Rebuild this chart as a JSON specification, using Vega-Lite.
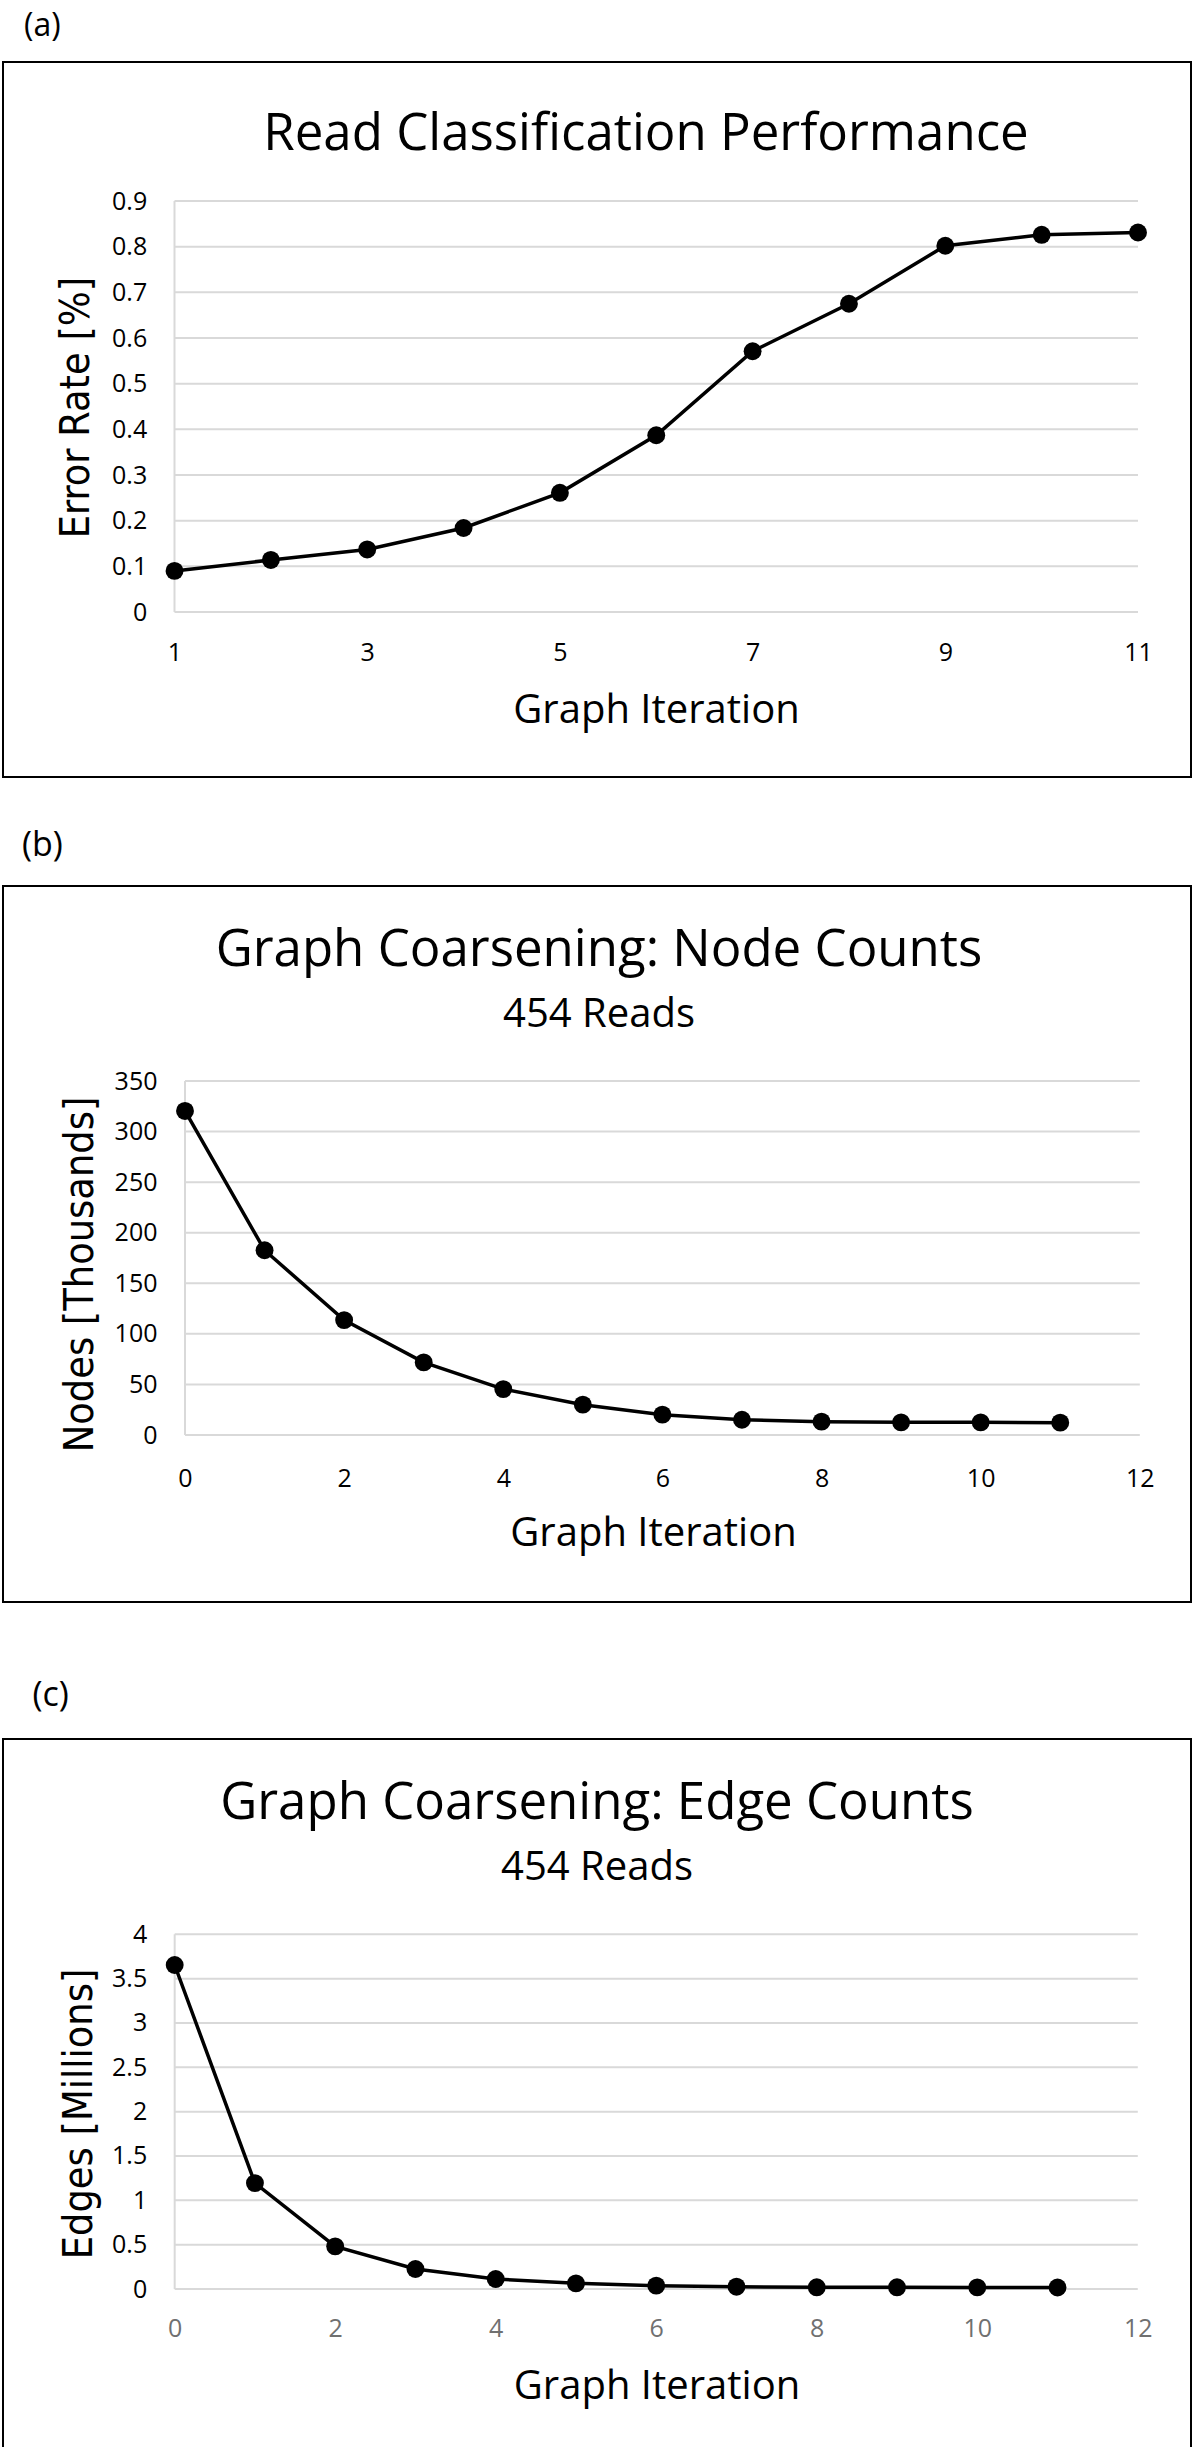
{
  "$schema": "https://vega.github.io/schema/vega-lite/v6.json",
  "padding": {"left": 2, "top": 10, "right": 0, "bottom": 0},
  "background": "white",
  "config": {
    "view": {"stroke": "black", "strokeWidth": 2},
    "font": "Open Sans",
    "title": {"font": "Open Sans", "fontWeight": "normal", "color": "black", "subtitleFont": "Open Sans", "subtitleColor": "black", "subtitleFontWeight": "normal"},
    "axis": {"grid": false, "domain": false, "ticks": false, "tickSize": 0, "labelPadding": 0, "labelFont": "Open Sans", "labelFontSize": 25, "labelColor": "black", "labelFlush": false, "labelOverlap": false, "titleColor": "black", "titleFontWeight": "normal", "format": ".2~f"}
  },
  "datasets": {
    "A": [
      {"x": 1, "y": 0.09}, {"x": 2, "y": 0.114}, {"x": 3, "y": 0.137}, {"x": 4, "y": 0.184},
      {"x": 5, "y": 0.261}, {"x": 6, "y": 0.387}, {"x": 7, "y": 0.571}, {"x": 8, "y": 0.675},
      {"x": 9, "y": 0.802}, {"x": 10, "y": 0.826}, {"x": 11, "y": 0.831}
    ],
    "gridA": [
      {"x": 1, "x2": 11, "y": 0}, {"x": 1, "x2": 11, "y": 0.1}, {"x": 1, "x2": 11, "y": 0.2},
      {"x": 1, "x2": 11, "y": 0.3}, {"x": 1, "x2": 11, "y": 0.4}, {"x": 1, "x2": 11, "y": 0.5},
      {"x": 1, "x2": 11, "y": 0.6}, {"x": 1, "x2": 11, "y": 0.7}, {"x": 1, "x2": 11, "y": 0.8},
      {"x": 1, "x2": 11, "y": 0.9}
    ],
    "vaxA": [{"x": 1, "y": 0, "y2": 0.9}],
    "B": [
      {"x": 0, "y": 320.4}, {"x": 1, "y": 182.7}, {"x": 2, "y": 113.6}, {"x": 3, "y": 71.8},
      {"x": 4, "y": 45.4}, {"x": 5, "y": 30.0}, {"x": 6, "y": 20.1}, {"x": 7, "y": 15.1},
      {"x": 8, "y": 13.2}, {"x": 9, "y": 12.5}, {"x": 10, "y": 12.5}, {"x": 11, "y": 12.2}
    ],
    "gridB": [
      {"x": 0, "x2": 12, "y": 0}, {"x": 0, "x2": 12, "y": 50}, {"x": 0, "x2": 12, "y": 100},
      {"x": 0, "x2": 12, "y": 150}, {"x": 0, "x2": 12, "y": 200}, {"x": 0, "x2": 12, "y": 250},
      {"x": 0, "x2": 12, "y": 300}, {"x": 0, "x2": 12, "y": 350}
    ],
    "vaxB": [{"x": 0, "y": 0, "y2": 350}],
    "C": [
      {"x": 0, "y": 3.654}, {"x": 1, "y": 1.194}, {"x": 2, "y": 0.481}, {"x": 3, "y": 0.225},
      {"x": 4, "y": 0.113}, {"x": 5, "y": 0.064}, {"x": 6, "y": 0.038}, {"x": 7, "y": 0.026},
      {"x": 8, "y": 0.019}, {"x": 9, "y": 0.019}, {"x": 10, "y": 0.018}, {"x": 11, "y": 0.017}
    ],
    "gridC": [
      {"x": 0, "x2": 12, "y": 0}, {"x": 0, "x2": 12, "y": 0.5}, {"x": 0, "x2": 12, "y": 1},
      {"x": 0, "x2": 12, "y": 1.5}, {"x": 0, "x2": 12, "y": 2}, {"x": 0, "x2": 12, "y": 2.5},
      {"x": 0, "x2": 12, "y": 3}, {"x": 0, "x2": 12, "y": 3.5}, {"x": 0, "x2": 12, "y": 4}
    ],
    "vaxC": [{"x": 0, "y": 0, "y2": 4}]
  },
  "spacing": 76,
  "vconcat": [
    {
      "spacing": 51,
      "vconcat": [
        {
          "title": {"text": "(a)", "anchor": "start", "dx": 22, "offset": 18, "fontSize": 32},
          "vconcat": [
            {
              "width": 1188,
              "height": 715,
              "title": {"text": "Read Classification Performance", "anchor": "middle", "frame": "group", "fontSize": 51, "dx": 49, "offset": -99},
              "encoding": {
                "x": {"field": "x", "type": "quantitative", "scale": {"domain": [-0.78, 11.55], "nice": false, "zero": false},
                  "axis": {"values": [1, 3, 5, 7, 9, 11], "offset": -117, "labelBaseline": "alphabetic", "title": "Graph Iteration", "titleFont": "Open Sans", "titleFontSize": 40, "titleX": 653, "titleY": 62, "titleAlign": "center", "titleBaseline": "alphabetic", "titleAngle": 0}},
                "y": {"field": "y", "type": "quantitative", "scale": {"domain": [-0.3613, 1.2044], "nice": false, "zero": false},
                  "axis": {"values": [0, 0.1, 0.2, 0.3, 0.4, 0.5, 0.6, 0.7, 0.8, 0.9], "offset": -143.7, "labelBaseline": "middle", "labelAlign": "right", "title": "Error Rate [%]", "titleFont": "DejaVu Sans Condensed, DejaVu Sans", "titleFontSize": 41, "titleX": -58.4, "titleY": 345, "titleAngle": 270, "titleAlign": "center", "titleBaseline": "alphabetic"}}
              },
              "layer": [
                {"data": {"name": "gridA"}, "mark": {"type": "rule", "color": "#d9d9d9", "strokeWidth": 2}, "encoding": {"x2": {"field": "x2"}}},
                {"data": {"name": "vaxA"}, "mark": {"type": "rule", "color": "#d9d9d9", "strokeWidth": 2}, "encoding": {"y2": {"field": "y2"}}},
                {"data": {"name": "A"}, "mark": {"type": "line", "color": "black", "strokeWidth": 3.5}},
                {"data": {"name": "A"}, "mark": {"type": "circle", "color": "black", "opacity": 1, "size": 320}}
              ]
            }
          ]
        },
        {
          "title": {"text": "(b)", "anchor": "start", "dx": 20, "offset": 22, "fontSize": 34},
          "vconcat": [
            {
              "width": 1188,
              "height": 716,
              "title": {"text": "Graph Coarsening: Node Counts", "subtitle": "454 Reads", "anchor": "middle", "frame": "group", "fontSize": 51, "subtitleFontSize": 40, "subtitlePadding": 18.4, "dx": 2, "offset": -150.3},
              "encoding": {
                "x": {"field": "x", "type": "quantitative", "scale": {"domain": [-2.2874, 12.6435], "nice": false, "zero": false},
                  "axis": {"values": [0, 2, 4, 6, 8, 10, 12], "offset": -116, "labelBaseline": "alphabetic", "title": "Graph Iteration", "titleFont": "Open Sans", "titleFontSize": 40, "titleX": 650, "titleY": 59.5, "titleAlign": "center", "titleBaseline": "alphabetic", "titleAngle": 0}},
                "y": {"field": "y", "type": "quantitative", "scale": {"domain": [-165.1, 542.8], "nice": false, "zero": false},
                  "axis": {"values": [0, 50, 100, 150, 200, 250, 300, 350], "offset": -154, "labelBaseline": "middle", "labelAlign": "right", "title": "Nodes [Thousands]", "titleFont": "DejaVu Sans Condensed, DejaVu Sans", "titleFontSize": 41, "titleX": -65, "titleY": 388, "titleAngle": 270, "titleAlign": "center", "titleBaseline": "alphabetic"}}
              },
              "layer": [
                {"data": {"name": "gridB"}, "mark": {"type": "rule", "color": "#d9d9d9", "strokeWidth": 2}, "encoding": {"x2": {"field": "x2"}}},
                {"data": {"name": "vaxB"}, "mark": {"type": "rule", "color": "#d9d9d9", "strokeWidth": 2}, "encoding": {"y2": {"field": "y2"}}},
                {"data": {"name": "B"}, "mark": {"type": "line", "color": "black", "strokeWidth": 3.5}},
                {"data": {"name": "B"}, "mark": {"type": "circle", "color": "black", "opacity": 1, "size": 320}}
              ]
            }
          ]
        }
      ]
    },
    {
      "title": {"text": "(c)", "anchor": "start", "dx": 30.5, "offset": 25, "fontSize": 34},
      "vconcat": [
        {
          "width": 1188,
          "height": 711,
          "title": {"text": "Graph Coarsening: Edge Counts", "subtitle": "454 Reads", "anchor": "middle", "frame": "group", "fontSize": 51, "subtitleFontSize": 40, "subtitlePadding": 18.4, "dx": 0, "offset": -150},
          "encoding": {
            "x": {"field": "x", "type": "quantitative", "scale": {"domain": [-2.139, 12.663], "nice": false, "zero": false},
              "axis": {"values": [0, 2, 4, 6, 8, 10, 12], "offset": -114, "labelBaseline": "alphabetic", "labelColor": "#707070", "title": "Graph Iteration", "titleFont": "Open Sans", "titleFontSize": 40, "titleX": 653.5, "titleY": 62.7, "titleAlign": "center", "titleBaseline": "alphabetic", "titleAngle": 0}},
            "y": {"field": "y", "type": "quantitative", "scale": {"domain": [-1.8156, 6.2024], "nice": false, "zero": false},
              "axis": {"values": [0, 0.5, 1, 1.5, 2, 2.5, 3, 3.5, 4], "offset": -143.7, "labelBaseline": "middle", "labelAlign": "right", "title": "Edges [Millions]", "titleFont": "DejaVu Sans Condensed, DejaVu Sans", "titleFontSize": 41, "titleX": -55, "titleY": 374.5, "titleAngle": 270, "titleAlign": "center", "titleBaseline": "alphabetic"}}
          },
          "layer": [
            {"data": {"name": "gridC"}, "mark": {"type": "rule", "color": "#d9d9d9", "strokeWidth": 2}, "encoding": {"x2": {"field": "x2"}}},
            {"data": {"name": "vaxC"}, "mark": {"type": "rule", "color": "#d9d9d9", "strokeWidth": 2}, "encoding": {"y2": {"field": "y2"}}},
            {"data": {"name": "C"}, "mark": {"type": "line", "color": "black", "strokeWidth": 3.5}},
            {"data": {"name": "C"}, "mark": {"type": "circle", "color": "black", "opacity": 1, "size": 320}}
          ]
        }
      ]
    }
  ]
}
